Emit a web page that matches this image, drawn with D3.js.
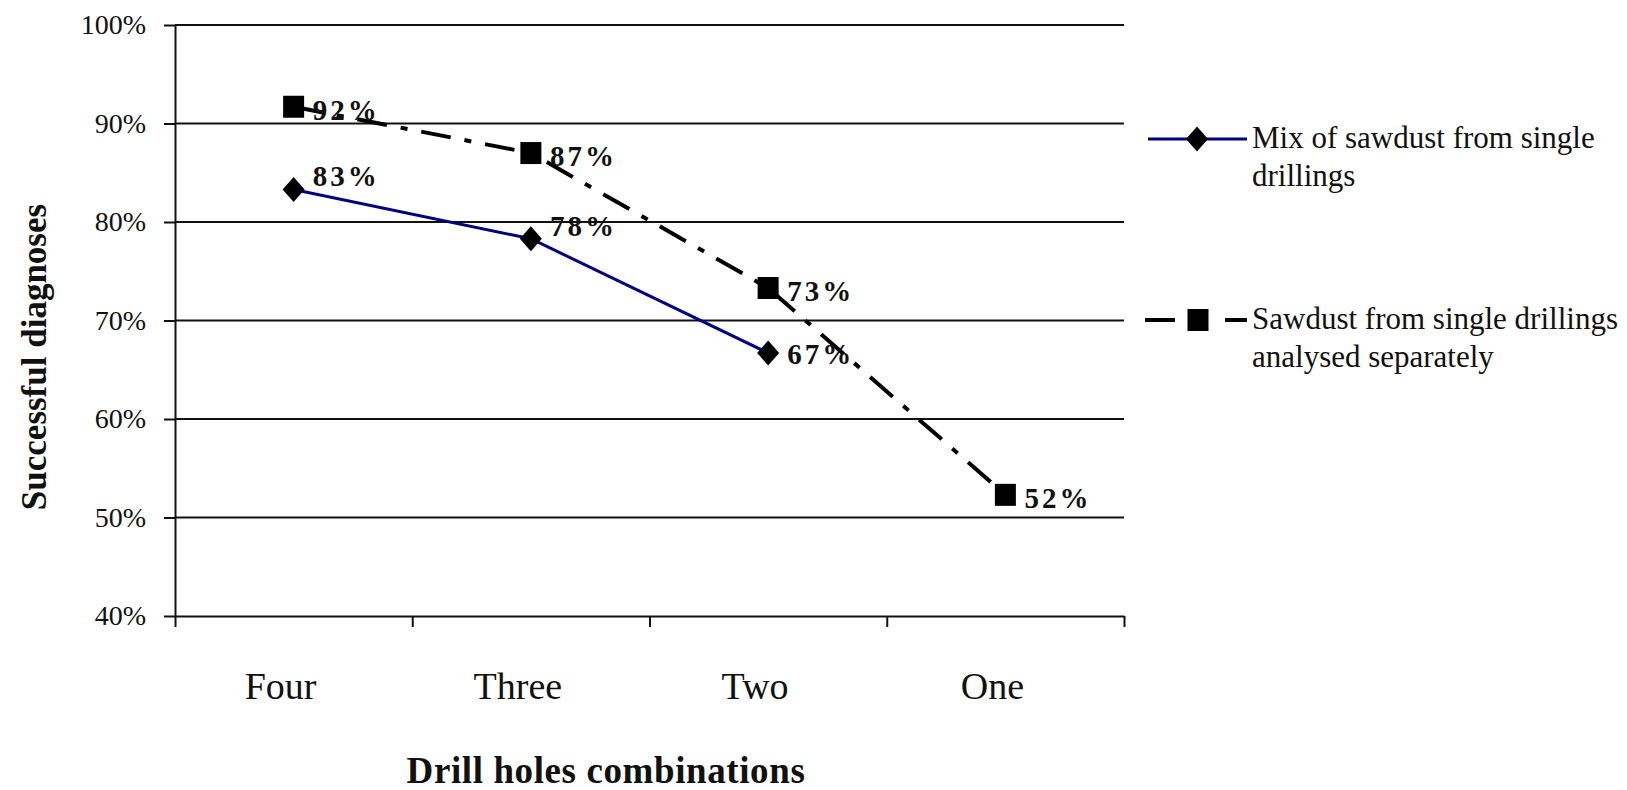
<!DOCTYPE html>
<html>
<head>
<meta charset="utf-8">
<script src="https://cdn.jsdelivr.net/npm/d3@7"></script>
<style>
  html, body { margin: 0; padding: 0; background: #fff; }
  svg { display: block; font-family: "Liberation Serif", "Times New Roman", serif; }
</style>
</head>
<body>
<svg id="chart" width="1627" height="790"></svg>
<script>
// ---- data ----
const categories = ["Four", "Three", "Two", "One"];
const mixValues = [0.833, 0.783, 0.667];            // Mix of sawdust from single drillings
const separateValues = [0.917, 0.870, 0.733, 0.523]; // Sawdust analysed separately
const yTicks = [0.4, 0.5, 0.6, 0.7, 0.8, 0.9, 1.0];
const seriesNames = ["Mix of sawdust from single drillings", "Sawdust from single drillings analysed separately"];
const legendLines = [["Mix of sawdust from single", "drillings"], ["Sawdust from single drillings", "analysed separately"]];
const xTitle = "Drill holes combinations";
const yTitle = "Successful diagnoses";

// ---- layout ----
const svg = d3.select("#chart");
const plotLeft = 175, plotRight = 1124, plotTop = 25, plotBottom = 616;

const x = d3.scaleBand().domain(categories).range([plotLeft, plotRight]);
const xEdge = d3.scaleLinear().domain([0, categories.length]).range([plotLeft, plotRight]);
const y = d3.scaleLinear().domain([0.4, 1.0]).range([plotBottom, plotTop]);
const cx = c => x(c) + x.bandwidth() / 2;

// gridlines
svg.append("g").selectAll("line").data(yTicks.slice(1)).join("line")
  .attr("x1", plotLeft).attr("x2", plotRight)
  .attr("y1", d => y(d)).attr("y2", d => y(d))
  .attr("stroke", "#111").attr("stroke-width", 2);

// y axis
const yAxis = svg.append("g").attr("transform", `translate(${plotLeft},0)`)
  .call(d3.axisLeft(y).tickValues(yTicks).tickFormat(d3.format(".0%"))
    .tickSize(11).tickSizeOuter(0).tickPadding(18));
yAxis.select(".domain").attr("stroke", "#111").attr("stroke-width", 2);
yAxis.selectAll(".tick line").attr("stroke", "#111").attr("stroke-width", 2);
yAxis.selectAll(".tick text").attr("font-size", 28).attr("fill", "#111")
  .attr("font-family", "'Liberation Serif', 'Times New Roman', serif");

// x axis (ticks at category boundaries)
const xAxis = svg.append("g").attr("transform", `translate(0,${plotBottom})`)
  .call(d3.axisBottom(xEdge).ticks(categories.length).tickFormat("").tickSize(11).tickSizeOuter(0));
xAxis.select(".domain").attr("stroke", "#111").attr("stroke-width", 2);
xAxis.selectAll(".tick line").attr("stroke", "#111").attr("stroke-width", 2);

// category labels
svg.append("g").selectAll("text").data(categories).join("text")
  .attr("x", d => cx(d) - 13).attr("y", 699)
  .attr("text-anchor", "middle").attr("font-size", 38).attr("fill", "#111")
  .text(d => d);

// axis titles
svg.append("text").attr("x", 606).attr("y", 783).attr("text-anchor", "middle")
  .attr("font-size", 37).attr("font-weight", "bold").attr("letter-spacing", 0.6)
  .attr("fill", "#111").text(xTitle);
svg.append("text").attr("transform", "translate(46,357) rotate(-90)").attr("text-anchor", "middle")
  .attr("font-size", 35).attr("font-weight", "bold").attr("fill", "#111").text(yTitle);

// series
const mixData = mixValues.map((v, i) => ({ c: categories[i], v }));
const sepData = separateValues.map((v, i) => ({ c: categories[i], v }));
const line = d3.line().x(d => cx(d.c)).y(d => y(d.v));

svg.append("path").datum(sepData).attr("d", line)
  .attr("fill", "none").attr("stroke", "#000").attr("stroke-width", 4)
  .attr("stroke-dasharray", "30,14,7,14");
svg.append("path").datum(mixData).attr("d", line)
  .attr("fill", "none").attr("stroke", "#000080").attr("stroke-width", 3);

function drawDiamond(g, px, py) {
  g.append("path").attr("d", "M0,-12.5L11,0L0,12.5L-11,0Z")
    .attr("transform", `translate(${px},${py})`).attr("fill", "#000");
}
function drawSquare(g, px, py) {
  g.append("rect").attr("x", px - 10.5).attr("y", py - 11).attr("width", 21).attr("height", 22).attr("fill", "#000");
}

const marks = svg.append("g");
sepData.forEach(d => drawSquare(marks, cx(d.c), y(d.v)));
mixData.forEach(d => drawDiamond(marks, cx(d.c), y(d.v)));

// data labels
const fmt = d3.format(".0%");
svg.append("g").selectAll("text").data(sepData).join("text")
  .attr("x", d => cx(d.c) + 19).attr("y", d => y(d.v) + 13)
  .attr("font-size", 29).attr("font-weight", "bold").attr("letter-spacing", 3).attr("fill", "#111")
  .text(d => fmt(d.v));
svg.append("g").selectAll("text").data(mixData).join("text")
  .attr("x", d => cx(d.c) + 19).attr("y", (d, i) => y(d.v) + (i < 2 ? -3 : 11))
  .attr("font-size", 29).attr("font-weight", "bold").attr("letter-spacing", 3).attr("fill", "#111")
  .text(d => fmt(d.v));

// legend
const lg = svg.append("g");
lg.append("line").attr("x1", 1148).attr("x2", 1247).attr("y1", 139).attr("y2", 139)
  .attr("stroke", "#000080").attr("stroke-width", 3);
drawDiamond(lg, 1197, 139);
lg.append("line").attr("x1", 1145).attr("x2", 1175).attr("y1", 320).attr("y2", 320)
  .attr("stroke", "#000").attr("stroke-width", 4);
lg.append("line").attr("x1", 1225).attr("x2", 1247).attr("y1", 320).attr("y2", 320)
  .attr("stroke", "#000").attr("stroke-width", 4);
drawSquare(lg, 1198, 320);
const legendBase = [148, 329];
legendLines.forEach((lines, k) => {
  lines.forEach((t, j) => {
    lg.append("text").attr("x", 1252).attr("y", legendBase[k] + j * 38)
      .attr("font-size", 31).attr("fill", "#111").text(t);
  });
});
</script>
</body>
</html>
